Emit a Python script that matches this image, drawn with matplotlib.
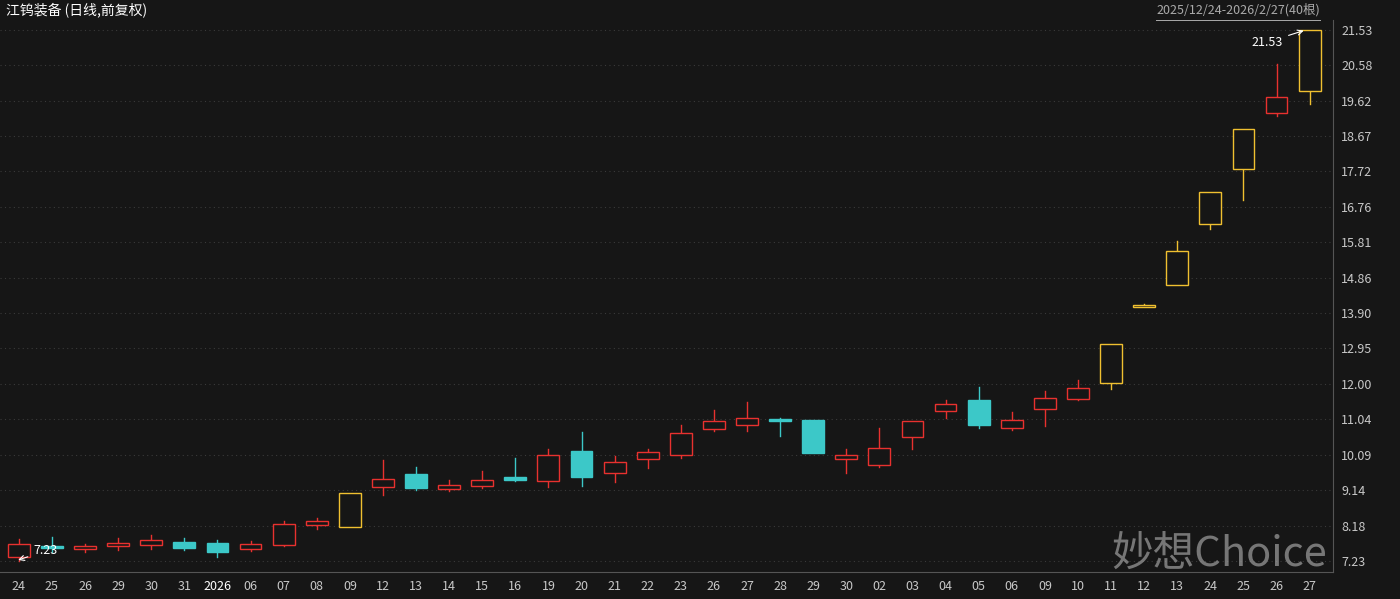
import matplotlib
matplotlib.use("Agg")
import matplotlib.pyplot as plt
from matplotlib.patches import Rectangle

plt.rcParams['font.family'] = ['Noto Sans CJK SC', 'DejaVu Sans']

dates = ["24","25","26","29","30","31","2026","06","07","08","09","12","13","14","15","16","19","20","21","22",
         "23","26","27","28","29","30","02","03","04","05","06","09","10","11","12","13","24","25","26","27"]
opens  = [7.34,7.62,7.54,7.62,7.66,7.74,7.71,7.55,7.66,8.20,8.15,9.22,9.57,9.17,9.25,9.49,9.38,10.19,9.60,9.98,
          10.08,10.79,10.89,11.05,11.03,9.98,9.82,10.57,11.27,11.57,10.81,11.32,11.59,12.02,14.07,14.66,16.31,17.79,19.30,19.89]
closes = [7.69,7.58,7.63,7.71,7.80,7.58,7.47,7.69,8.23,8.31,9.06,9.44,9.20,9.28,9.41,9.41,10.08,9.49,9.90,10.17,
          10.68,11.00,11.08,11.00,10.14,10.08,10.27,11.00,11.46,10.89,11.03,11.62,11.89,13.07,14.13,15.58,17.17,18.87,19.73,21.53]
highs  = [7.82,7.88,7.69,7.85,7.93,7.85,7.80,7.77,8.31,8.39,9.06,9.95,9.76,9.41,9.65,10.00,10.25,10.70,10.06,10.25,
          10.89,11.30,11.51,11.08,11.03,10.25,10.81,11.00,11.57,11.92,11.24,11.81,12.10,13.07,14.15,15.85,17.17,18.87,20.62,21.53]
lows   = [7.23,7.47,7.47,7.53,7.55,7.53,7.34,7.50,7.63,8.09,8.15,9.01,9.14,9.12,9.20,9.38,9.22,9.25,9.36,9.73,
          10.00,10.73,10.73,10.60,10.14,9.60,9.76,10.25,11.08,10.81,10.76,10.86,11.57,11.86,14.07,14.66,16.17,16.95,19.22,19.54]
limit_up = [10, 33, 34, 35, 36, 37, 39]
yticks = [7.23,8.18,9.14,10.09,11.04,12.00,12.95,13.90,14.86,15.81,16.76,17.72,18.67,19.62,20.58,21.53]

BG = "#161616"
RED = "#e8312f"; CYAN = "#3cc8c8"; YEL = "#f0c030"
fig = plt.figure(figsize=(14, 5.99), dpi=100, facecolor=BG)
ax = fig.add_axes([0, 0.045, 0.952, 0.922], facecolor=BG)
w = 0.66
for i in range(len(dates)):
    o, c, h, l = opens[i], closes[i], highs[i], lows[i]
    if i in limit_up:
        col, fill = YEL, False
    elif c >= o:
        col, fill = RED, False
    else:
        col, fill = CYAN, True
    lo, hi = min(o, c), max(o, c)
    ax.plot([i, i], [hi, h], color=col, lw=1)
    ax.plot([i, i], [l, lo], color=col, lw=1)
    ax.add_patch(Rectangle((i - w/2, lo), w, max(hi - lo, 0.03), facecolor=col if fill else BG,
                           edgecolor=col, lw=1, zorder=3))
ax.set_xlim(-0.57, 39.7)
ax.set_ylim(6.93, 21.80)
for y in yticks:
    ax.axhline(y, color="#3a3a3a", lw=0.8, ls=(0, (1, 3)), zorder=0)
ax.yaxis.tick_right()
ax.set_yticks(yticks)
ax.set_yticklabels([f"{v:.2f}" for v in yticks], color="#c8c8c8", fontsize=9)
ax.set_xticks(range(len(dates)))
ax.set_xticklabels(dates, color="#c8c8c8", fontsize=9)
for lab in ax.get_xticklabels():
    if lab.get_text() == "2026":
        lab.set_color("#ffffff")
ax.tick_params(axis='both', length=0, pad=6)
for s in ax.spines.values():
    s.set_visible(False)
ax.spines['right'].set_visible(True); ax.spines['right'].set_color("#555555")
ax.spines['bottom'].set_visible(True); ax.spines['bottom'].set_color("#555555")

ax.annotate("21.53", xy=(39 - 0.1, 21.53), xytext=(38.2, 21.2), color="white", fontsize=9,
            ha="right", va="center", arrowprops=dict(arrowstyle="->", color="white", lw=0.8))
ax.annotate("7.23", xy=(0 - 0.1, 7.23), xytext=(0.8, 7.5), color="white", fontsize=9,
            ha="center", va="center", arrowprops=dict(arrowstyle="->", color="white", lw=0.8))
fig.text(0.004, 0.983, "江钨装备 (日线,前复权)", color="white", fontsize=10, va="center")
fig.text(0.943, 0.983, "2025/12/24-2026/2/27(40根)", color="#aaaaaa", fontsize=9, va="center", ha="right")
fig.add_artist(plt.Line2D([0.826, 0.943], [0.966, 0.966], color="#aaaaaa", lw=0.7))
fig.text(0.948, 0.075, "妙想Choice", color="#a0a0a0", alpha=0.7, fontsize=30, ha="right", va="center")
fig.savefig("out.png", dpi=100, facecolor=BG)
